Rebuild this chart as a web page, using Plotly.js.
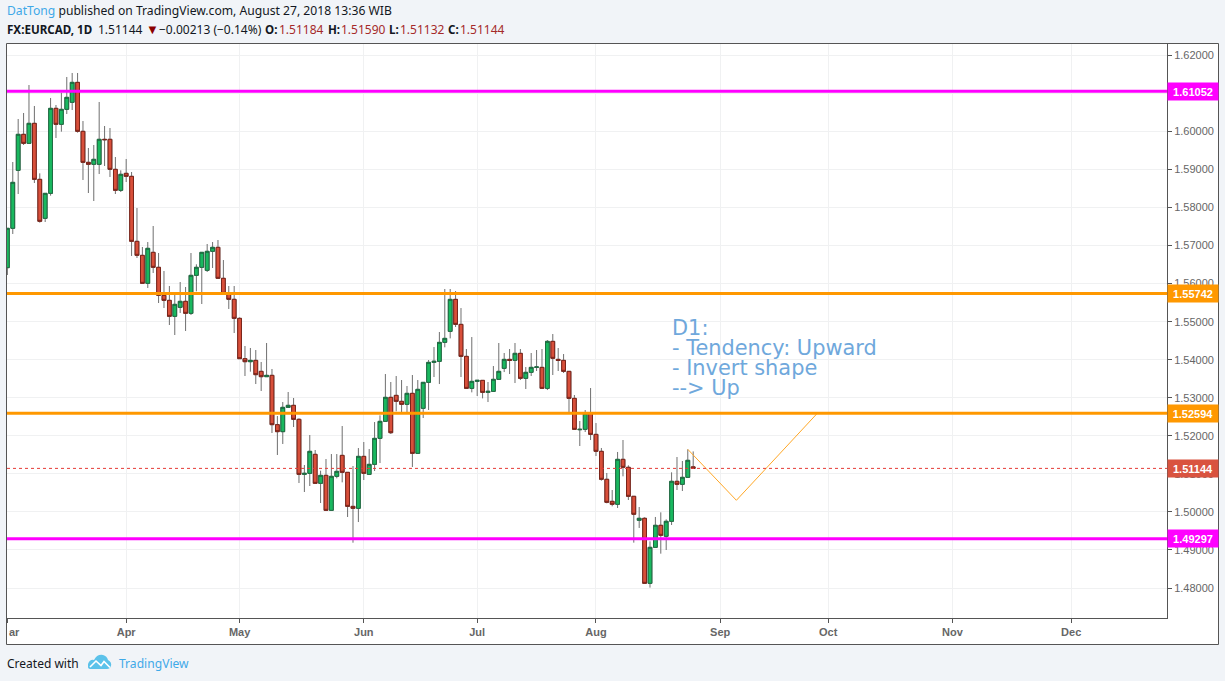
<!DOCTYPE html>
<html>
<head>
<meta charset="utf-8">
<script src="https://cdn.plot.ly/plotly-3.0.1.min.js"></script>
<style>html,body{margin:0;padding:0;background:#f1f4f8;}#chart{width:1225px;height:681px;}</style>
</head>
<body>
<div id="chart"></div>
<script>
// EUR/CAD daily bars
const open = [1.56419,1.57453,1.58977,1.59923,1.59686,1.60212,1.5874,1.57715,1.58372,1.60606,1.60186,1.6058,1.60764,1.61289,1.60002,1.59187,1.59135,1.59135,1.59792,1.59792,1.59003,1.58451,1.58898,1.58819,1.57111,1.56743,1.56007,1.56822,1.56428,1.55692,1.5556,1.5514,1.55376,1.55534,1.55219,1.56217,1.56428,1.56349,1.56848,1.56953,1.56139,1.55744,1.55587,1.55087,1.54027,1.53948,1.53983,1.53694,1.53554,1.53589,1.52293,1.52109,1.52748,1.52801,1.52433,1.50987,1.51013,1.51513,1.50751,1.50961,1.50041,1.50935,1.51486,1.5104,1.50146,1.50094,1.5146,1.50987,1.5125,1.51933,1.5238,1.53011,1.53063,1.52906,1.52827,1.53116,1.51539,1.52722,1.53405,1.5393,1.53957,1.54456,1.54745,1.55586,1.54929,1.54088,1.53247,1.53431,1.53457,1.53142,1.53168,1.53484,1.53773,1.54009,1.53983,1.54167,1.5351,1.53668,1.53799,1.53799,1.53247,1.54482,1.54009,1.53983,1.53694,1.52984,1.5216,1.5217,1.5259,1.52038,1.51592,1.50857,1.50278,1.502,1.51382,1.51172,1.5041,1.49779,1.49832,1.48123,1.49069,1.49648,1.49359,1.49753,1.50804,1.50725,1.50909,1.51184];
const high = [1.57453,1.59196,1.60326,1.60484,1.61219,1.60668,1.58898,1.58372,1.60878,1.60694,1.61018,1.6143,1.61535,1.61535,1.60273,1.59564,1.59643,1.60773,1.60142,1.60089,1.59327,1.58977,1.59275,1.58933,1.57987,1.56962,1.57093,1.57514,1.56804,1.56331,1.55937,1.55701,1.56042,1.55911,1.56804,1.56507,1.56822,1.57041,1.57093,1.57146,1.5662,1.55937,1.55937,1.55113,1.5436,1.54308,1.54255,1.5394,1.54439,1.53756,1.52521,1.52888,1.53151,1.52994,1.52459,1.51232,1.52021,1.51627,1.51083,1.5139,1.51521,1.51521,1.52257,1.5104,1.51206,1.51679,1.51837,1.51653,1.52362,1.52538,1.53624,1.53414,1.53571,1.53466,1.53309,1.53598,1.53466,1.53405,1.53992,1.54333,1.54728,1.55858,1.55858,1.55805,1.55358,1.54281,1.54596,1.53457,1.53457,1.53414,1.53834,1.54439,1.54176,1.54281,1.54439,1.54281,1.53808,1.54176,1.54255,1.54281,1.54517,1.54675,1.54307,1.54149,1.53694,1.53072,1.52389,1.52678,1.53256,1.52336,1.5168,1.51023,1.50576,1.51575,1.5189,1.51224,1.5041,1.50129,1.49858,1.49227,1.49867,1.49989,1.49805,1.5104,1.51443,1.51338,1.51645,1.5159];
const low = [1.56226,1.57304,1.58355,1.59643,1.59686,1.58644,1.57602,1.57619,1.58311,1.59827,1.59993,1.60457,1.60562,1.59967,1.58723,1.58381,1.58171,1.5888,1.59091,1.58802,1.58355,1.58407,1.5867,1.56726,1.56673,1.56007,1.55885,1.56279,1.5549,1.55359,1.54912,1.54649,1.55228,1.54755,1.55175,1.55797,1.55464,1.56305,1.5641,1.56139,1.55727,1.55333,1.54702,1.54027,1.53572,1.53686,1.53361,1.53178,1.53554,1.52074,1.51496,1.51785,1.52748,1.52231,1.50759,1.50523,1.50681,1.50751,1.50234,1.50041,1.50041,1.50882,1.50777,1.49866,1.49191,1.49734,1.50838,1.50987,1.51075,1.51285,1.5238,1.52047,1.52643,1.52616,1.5259,1.5118,1.51539,1.52468,1.52678,1.53545,1.53361,1.54325,1.54561,1.54859,1.53545,1.53247,1.53142,1.53046,1.52984,1.52888,1.53168,1.53484,1.53676,1.53624,1.53387,1.53466,1.5323,1.53571,1.53703,1.53247,1.53203,1.53598,1.53703,1.5365,1.5259,1.5217,1.51732,1.521,1.51889,1.51469,1.50821,1.50226,1.50147,1.50103,1.50935,1.50313,1.49192,1.49578,1.48123,1.4801,1.49069,1.48903,1.48999,1.49656,1.50576,1.5055,1.50909,1.51132];
const close = [1.57453,1.58661,1.59923,1.59686,1.60212,1.5874,1.57637,1.58372,1.60606,1.60186,1.6058,1.60895,1.61289,1.60002,1.59187,1.59135,1.59266,1.59792,1.59782,1.59003,1.58451,1.58872,1.58819,1.57111,1.56743,1.56007,1.56927,1.56428,1.55692,1.5556,1.5514,1.55455,1.55534,1.55219,1.56217,1.56428,1.56822,1.56848,1.56953,1.56139,1.55744,1.55587,1.55087,1.54027,1.53948,1.53983,1.53607,1.53554,1.53589,1.52293,1.52109,1.52748,1.52801,1.52433,1.50987,1.51013,1.51592,1.50751,1.50961,1.50041,1.50935,1.51066,1.5104,1.50146,1.50094,1.5146,1.51013,1.5125,1.51933,1.5238,1.53011,1.52082,1.52906,1.52827,1.53116,1.51539,1.53221,1.53405,1.5393,1.53957,1.54456,1.54561,1.55586,1.54929,1.54088,1.53247,1.53431,1.53457,1.53142,1.53168,1.53484,1.53694,1.54009,1.53983,1.54167,1.5351,1.53668,1.53799,1.53809,1.53247,1.54482,1.54036,1.53983,1.53694,1.52984,1.5217,1.5217,1.5259,1.52038,1.51592,1.50857,1.50252,1.502,1.51382,1.51172,1.5041,1.49937,1.49832,1.48123,1.49069,1.49648,1.49385,1.49753,1.50804,1.50725,1.50909,1.51356,1.51144];

const monthNames = ["","Apr","May","Jun","Jul","Aug","Sep","Oct","Nov","Dec"];
const monthBars = [0,22,43,66,87,109,132,152,175,197];
const levelPrices = [1.61052,1.55742,1.52594,1.49297];
const levelColors = ["#ff00ff","#ff9800","#ff9800","#ff00ff"];
const lastPrice = 1.51144;
const sketchBars = [126,135,150];
const sketchPrices = [1.51645,1.50305,1.52594];
const noteLines = ["D1:","- Tendency: Upward","- Invert shape","--> Up"];
const notePrices = [1.54833,1.54308,1.53782,1.53256];

const bars = open.map((_, i) => i);
const bodyHigh = open.map((o, i) => Math.max(o, close[i]));
const bodyLow = open.map((o, i) => Math.min(o, close[i]));

const PW = 1160, PH = 574;
const xp = px => (px - 7) / PW;
const yp = py => (618 - py) / PH;
const textFont = "Noto Sans, sans-serif";
const lab = (x, y, text, color, size, weight) => ({
  xref: "paper", yref: "paper", x: xp(x), y: yp(y), xanchor: "left", yanchor: "middle",
  text, showarrow: false, borderpad: 0,
  font: {family: textFont, size: size || 12, color: color || "#131722", weight: weight || 400}
});
const quote = "#a52a2a";

const traces = [
  {type: "candlestick", x: bars, open, high, low, close, whiskerwidth: 0, hoverinfo: "skip", showlegend: false,
   increasing: {line: {color: "#6f6f6f", width: 1}, fillcolor: "#19b85f"},
   decreasing: {line: {color: "#6f6f6f", width: 1}, fillcolor: "#d84f3a"}},
  {type: "candlestick", x: bars, open, high: bodyHigh, low: bodyLow, close, whiskerwidth: 0, hoverinfo: "skip", showlegend: false,
   increasing: {line: {color: "#1f6b42", width: 1}, fillcolor: "#19b85f"},
   decreasing: {line: {color: "#7a241a", width: 1}, fillcolor: "#d84f3a"}},
  {type: "scatter", mode: "lines", x: sketchBars, y: sketchPrices, hoverinfo: "skip", showlegend: false,
   line: {color: "#ffa726", width: 1}}
];

const tag = (price, color) => ({
  xref: "paper", yref: "y", x: 1, y: price, xanchor: "left", yanchor: "middle",
  text: price.toFixed(5), showarrow: false, bgcolor: color, width: 50, height: 17, borderpad: 0,
  align: "center", font: {family: "Liberation Sans, Arial, sans-serif", size: 11, color: "#ffffff", weight: 700}
});

const shapes = [
  {type: "rect", xref: "paper", yref: "paper", layer: "below", x0: xp(6.5), x1: xp(1218.5), y0: yp(644.5), y1: yp(43.5),
   fillcolor: "#ffffff", line: {color: "#555555", width: 1}},
  ...levelPrices.map((p, i) => ({type: "line", xref: "paper", yref: "y", x0: 0, x1: 1, y0: p, y1: p, layer: "above",
    line: {color: levelColors[i], width: 3}})),
  {type: "line", xref: "paper", yref: "y", x0: 0, x1: 1, y0: lastPrice, y1: lastPrice, layer: "above",
   line: {color: "#e53935", width: 1, dash: "dot"}},
  {type: "path", xref: "paper", yref: "paper", layer: "above", fillcolor: "#5cc2ea", line: {width: 0},
   path: "M" + xp(88) + "," + yp(667) + " L" + xp(88) + "," + yp(664) + " Q" + xp(90) + "," + yp(659) + " " + xp(94) + "," + yp(660) +
         " Q" + xp(97) + "," + yp(654) + " " + xp(103) + "," + yp(655) + " Q" + xp(107) + "," + yp(656) + " " + xp(108) + "," + yp(660) +
         " Q" + xp(112) + "," + yp(662) + " " + xp(111) + "," + yp(666) + " Q" + xp(110) + "," + yp(669) + " " + xp(107) + "," + yp(669) +
         " L" + xp(91) + "," + yp(669) + " Q" + xp(88) + "," + yp(669) + " " + xp(88) + "," + yp(667) + " Z"},
  {type: "path", xref: "paper", yref: "paper", layer: "above", line: {color: "#ffffff", width: 1.6},
   path: "M" + xp(90) + "," + yp(667) + " L" + xp(96) + "," + yp(661) + " L" + xp(101) + "," + yp(665.5) + " L" + xp(104) + "," + yp(661.5) + " L" + xp(110) + "," + yp(667.5)}
];

const annotations = [
  lab(5.5, 11, '<span style="color:#3fa9e8">DatTong</span> published on TradingView.com, August 27, 2018 13:36 WIB', "#131722", 12.15),
  lab(5.5, 29, "FX:EURCAD, 1D", "#131722", 11.6, 700),
  lab(97, 29, "1.51144", "#131722", 12),
  lab(144.5, 29, "▼", "#8b0000", 13),
  lab(158, 29, "−0.00213 (−0.14%)", "#131722", 12),
  lab(264, 29, "O:", "#131722", 11.6, 700),
  lab(278, 29, "1.51184", quote, 12),
  lab(327, 29, "H:", "#131722", 11.6, 700),
  lab(340, 29, "1.51590", quote, 12),
  lab(388, 29, "L:", "#131722", 11.6, 700),
  lab(399, 29, "1.51132", quote, 12),
  lab(447, 29, "C:", "#131722", 11.6, 700),
  lab(459, 29, "1.51144", quote, 12),
  lab(5.5, 663, "Created with", "#131722", 12),
  lab(117.5, 663, "TradingView", "#3fa9e8", 12.1),
  {xref: "paper", yref: "paper", x: xp(8), y: yp(632), xanchor: "left", yanchor: "middle", text: "ar", showarrow: false, borderpad: 0,
   font: {family: "Liberation Sans, Arial, sans-serif", size: 11, color: "#666666", weight: 700}},
  ...noteLines.map((t, i) => ({xref: "x", yref: "y", x: 122.95, y: notePrices[i], xanchor: "left", yanchor: "middle",
    text: t, showarrow: false, borderpad: 0, font: {family: "DejaVu Sans, Verdana, sans-serif", size: 20.9, color: "#6fa8dc"}})),
  ...levelPrices.map((p, i) => tag(p, levelColors[i])),
  tag(lastPrice, "#d9533f")
];

const layout = {
  width: 1225, height: 681, autosize: false, showlegend: false, dragmode: false, hovermode: false,
  paper_bgcolor: "#f1f4f8", plot_bgcolor: "#ffffff",
  margin: {l: 7, r: 58, t: 44, b: 63, pad: 0},
  boxgap: 0,
  xaxis: {type: "linear", range: [-0.07, 214.74], tickmode: "array", tickvals: monthBars, ticktext: monthNames,
    showgrid: true, gridcolor: "#f0f1f2", gridwidth: 1, zeroline: false, showline: true, linecolor: "#555555", linewidth: 1,
    ticks: "outside", ticklen: 4, tickcolor: "#555555", rangeslider: {visible: false},
    tickfont: {family: "Liberation Sans, Arial, sans-serif", size: 11, color: "#666666", weight: 700}},
  yaxis: {type: "linear", side: "right", range: [1.47212, 1.62297], tickmode: "linear", tick0: 1.48, dtick: 0.01, tickformat: ".5f",
    showgrid: true, gridcolor: "#f0f1f2", gridwidth: 1, zeroline: false, showline: true, linecolor: "#555555", linewidth: 1,
    ticks: "outside", ticklen: 4, tickcolor: "#555555",
    tickfont: {family: "Liberation Sans, Arial, sans-serif", size: 11, color: "#666666"}},
  shapes, annotations
};

Plotly.newPlot("chart", traces, layout, {displayModeBar: false, staticPlot: true});
</script>
</body>
</html>
